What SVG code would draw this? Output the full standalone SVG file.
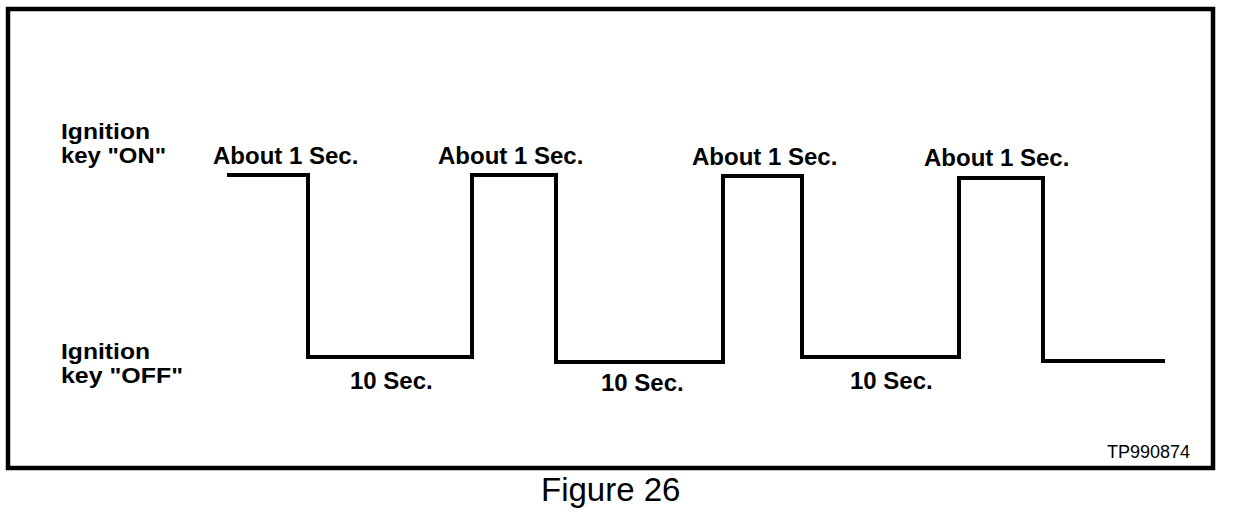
<svg xmlns="http://www.w3.org/2000/svg" width="1248" height="516" viewBox="0 0 1248 516">
<style>
.b{font-family:"Liberation Sans",Arial,sans-serif;font-weight:bold;font-size:24px;fill:#000}
.k{font-family:"Liberation Sans",Arial,sans-serif;font-weight:bold;font-size:22px;fill:#000}
.r{font-family:"Liberation Sans",Arial,sans-serif;fill:#000}
.w{fill:none;stroke:#000;stroke-width:4;stroke-linejoin:miter;stroke-linecap:square}
</style>
<rect width="1248" height="516" fill="#fff"/>
<g id="frame">
<rect x="8" y="9" width="1205" height="459" fill="none" stroke="#000" stroke-width="4.5"/>
</g>
<g id="axis-labels">
<text class="k" x="61" y="139" textLength="89" lengthAdjust="spacingAndGlyphs">Ignition</text>
<text class="k" x="61" y="163" textLength="105" lengthAdjust="spacingAndGlyphs">key "ON"</text>
<text class="k" x="61" y="359" textLength="89" lengthAdjust="spacingAndGlyphs">Ignition</text>
<text class="k" x="61" y="383" textLength="122" lengthAdjust="spacingAndGlyphs">key "OFF"</text>
</g>
<g id="waveform">
<polyline class="w" points="229,175 308,175 308,357 472,357 472,175 556,175 556,362 723,362 723,176 802,176 802,357 959,357 959,178 1043,178 1043,361 1163,361"/>
</g>
<g id="on-labels">
<text class="b" x="213" y="164">About 1 Sec.</text>
<text class="b" x="438" y="164">About 1 Sec.</text>
<text class="b" x="692" y="165">About 1 Sec.</text>
<text class="b" x="924" y="166">About 1 Sec.</text>
</g>
<g id="off-labels">
<text class="b" x="350" y="389">10 Sec.</text>
<text class="b" x="601" y="391">10 Sec.</text>
<text class="b" x="850" y="389">10 Sec.</text>
</g>
<text class="r" x="1107" y="458" font-size="18">TP990874</text>
<text class="r" x="541" y="501" font-size="33">Figure 26</text>
</svg>
